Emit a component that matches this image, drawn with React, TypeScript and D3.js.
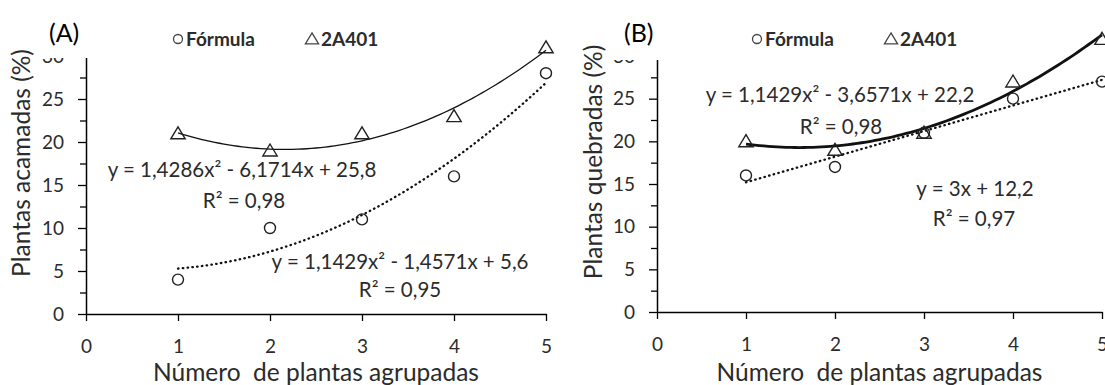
import { useEffect, useRef } from 'react';
import * as d3 from 'd3';

// values
const xValues = [1, 2, 3, 4, 5];
const acamadasFormula = [4, 10, 11, 16, 28];
const acamadas2A401 = [21, 19, 21, 23, 31];
const quebradasFormula = [16, 17, 21, 25, 27];
const quebradas2A401 = [20, 19, 21, 27, 32];

// trendline coefficients (a, b, c for a*x^2 + b*x + c), as printed on the chart
const fitAcamadasFormula = [1.1429, -1.4571, 5.6];
const fitAcamadas2A401 = [1.4286, -6.1714, 25.8];
const fitQuebradasFormula = [0, 3, 12.2];
const fitQuebradas2A401 = [1.1429, -3.6571, 22.2];

const xTicks = [0, 1, 2, 3, 4, 5];
const yTicks = [0, 5, 10, 15, 20, 25, 30];
const yMinorTicks = [2.5, 7.5, 12.5, 17.5, 22.5, 27.5];

const legendLabels = ['Fórmula', '2A401'];
const xTitle = 'Número  de plantas agrupadas';

const FONT = 'Lato, "Open Sans", sans-serif';
const TEXT = '#2b2b2b';

const panels = [
  {
    tag: '(A)',
    yTitle: 'Plantas acamadas (%)',
    formula: acamadasFormula,
    hybrid: acamadas2A401,
    fitFormula: fitAcamadasFormula,
    fitHybrid: fitAcamadas2A401,
    solidWidth: 1.3,
    left: 86, right: 546, bottom: 314, top: 56,
    coverX: 35, coverW: 430, coverH: 58,
    tagX: 49, legendX: 178, titleX: 21, titleY: 163,
    labels: [
      { x: 242, y: 170, t: 'y = 1,4286x² - 6,1714x + 25,8' },
      { x: 244, y: 201, t: 'R² = 0,98' },
      { x: 400, y: 262, t: 'y = 1,1429x² - 1,4571x + 5,6' },
      { x: 400, y: 290, t: 'R² = 0,95' }
    ]
  },
  {
    tag: '(B)',
    yTitle: 'Plantas quebradas (%)',
    formula: quebradasFormula,
    hybrid: quebradas2A401,
    fitFormula: fitQuebradasFormula,
    fitHybrid: fitQuebradas2A401,
    solidWidth: 2.8,
    left: 657, right: 1102, bottom: 312, top: 56,
    coverX: 606, coverW: 400, coverH: 60,
    tagX: 624, legendX: 757, titleX: 593, titleY: 162,
    labels: [
      { x: 840, y: 95, t: 'y = 1,1429x² - 3,6571x + 22,2' },
      { x: 841, y: 127, t: 'R² = 0,98' },
      { x: 975, y: 189, t: 'y = 3x + 12,2' },
      { x: 974, y: 219, t: 'R² = 0,97' }
    ]
  }
];

const triPath = (cx, cy, s) =>
  `M${cx},${cy - s * 0.55}L${cx + s * 0.6},${cy + s * 0.45}L${cx - s * 0.6},${cy + s * 0.45}Z`;

const App = () => {
  const svgRef = useRef();

  useEffect(() => {
    const svg = d3.select(svgRef.current);
    svg.selectAll('*').remove();

    panels.forEach(p => {
      const g = svg.append('g');
      const x = d3.scaleLinear().domain([0, 5]).range([p.left, p.right]);
      const y = d3.scaleLinear().domain([0, 30]).range([p.bottom, p.top]);

      // minor y ticks
      g.append('g')
        .attr('transform', `translate(${p.left},0)`)
        .call(d3.axisLeft(y).tickValues(yMinorTicks).tickSize(6).tickFormat(() => ''))
        .call(a => a.select('.domain').remove())
        .selectAll('line')
        .attr('stroke', '#000')
        .attr('stroke-width', 1.3);

      // y axis
      g.append('g')
        .attr('transform', `translate(${p.left},0)`)
        .call(d3.axisLeft(y).tickValues(yTicks).tickSize(8).tickSizeOuter(0).tickPadding(14))
        .call(a => a.select('.domain').attr('stroke', '#000').attr('stroke-width', 1.5))
        .call(a => a.selectAll('line').attr('stroke', '#000').attr('stroke-width', 1.3))
        .selectAll('text')
        .attr('fill', TEXT)
        .style('font-family', FONT)
        .style('font-size', '19px');

      // x axis
      g.append('g')
        .attr('transform', `translate(0,${p.bottom})`)
        .call(d3.axisBottom(x).tickValues(xTicks).tickSize(7).tickSizeOuter(0).tickPadding(19).tickFormat(d3.format('d')))
        .call(a => a.select('.domain').attr('stroke', '#000').attr('stroke-width', 1.5))
        .call(a => a.selectAll('line').attr('stroke', '#000').attr('stroke-width', 1.3))
        .selectAll('text')
        .attr('fill', TEXT)
        .style('font-family', FONT)
        .style('font-size', '19px');

      // white box that hides the top of the axis, as in the original
      g.append('rect')
        .attr('x', p.coverX)
        .attr('y', 0)
        .attr('width', p.coverW)
        .attr('height', p.coverH)
        .attr('fill', '#fff');

      // trendlines
      const curve = c => d3.range(1, 5.0001, 0.05).map(v => [v, c[0] * v * v + c[1] * v + c[2]]);
      const line = d3.line().x(d => x(d[0])).y(d => y(d[1]));

      g.append('path')
        .attr('d', line(curve(p.fitFormula)))
        .attr('fill', 'none')
        .attr('stroke', '#111')
        .attr('stroke-width', 2.3)
        .attr('stroke-linecap', 'round')
        .attr('stroke-dasharray', '0.5 4.3');

      g.append('path')
        .attr('d', line(curve(p.fitHybrid)))
        .attr('fill', 'none')
        .attr('stroke', '#111')
        .attr('stroke-width', p.solidWidth);

      // markers
      g.selectAll('.circ')
        .data(xValues)
        .enter()
        .append('circle')
        .attr('cx', d => x(d))
        .attr('cy', (d, i) => y(p.formula[i]))
        .attr('r', 5.5)
        .attr('fill', 'none')
        .attr('stroke', '#222')
        .attr('stroke-width', 1.4);

      g.selectAll('.tri')
        .data(xValues)
        .enter()
        .append('path')
        .attr('d', (d, i) => triPath(x(d), y(p.hybrid[i]), 12))
        .attr('fill', 'none')
        .attr('stroke', '#222')
        .attr('stroke-width', 1.4);

      // equations
      p.labels.forEach(l => {
        g.append('text')
          .attr('x', l.x)
          .attr('y', l.y)
          .attr('dy', '0.35em')
          .attr('text-anchor', 'middle')
          .attr('fill', TEXT)
          .style('font-family', FONT)
          .style('font-size', '20.5px')
          .text(l.t);
      });

      // panel tag
      g.append('text')
        .attr('x', p.tagX)
        .attr('y', 33)
        .attr('dy', '0.35em')
        .attr('fill', '#000')
        .style('font-family', FONT)
        .style('font-size', '25px')
        .text(p.tag);

      // legend
      const lg = g.append('g').attr('transform', `translate(${p.legendX},39)`);
      lg.append('circle').attr('cx', 0).attr('cy', 0).attr('r', 4.5)
        .attr('fill', 'none').attr('stroke', '#444').attr('stroke-width', 1.3);
      lg.append('text').attr('x', 8).attr('y', 0).attr('dy', '0.35em')
        .attr('fill', TEXT).style('font-family', FONT).style('font-size', '19px')
        .style('font-weight', 'bold').text(legendLabels[0]);
      lg.append('path').attr('d', triPath(134, 0, 11))
        .attr('fill', 'none').attr('stroke', '#444').attr('stroke-width', 1.3);
      lg.append('text').attr('x', 143).attr('y', 0).attr('dy', '0.35em')
        .attr('fill', TEXT).style('font-family', FONT).style('font-size', '19px')
        .style('font-weight', 'bold').text(legendLabels[1]);

      // axis titles
      g.append('text')
        .attr('x', (p.left + p.right) / 2)
        .attr('y', 372)
        .attr('dy', '0.35em')
        .attr('text-anchor', 'middle')
        .attr('fill', TEXT)
        .style('font-family', FONT)
        .style('font-size', '24.5px')
        .style('white-space', 'pre')
        .text(xTitle);

      g.append('text')
        .attr('transform', `translate(${p.titleX},${p.titleY}) rotate(-90)`)
        .attr('dy', '0.35em')
        .attr('text-anchor', 'middle')
        .attr('fill', TEXT)
        .style('font-family', FONT)
        .style('font-size', '24.5px')
        .text(p.yTitle);
    });
  }, []);

  return (
    <svg
      ref={svgRef}
      width={1105}
      height={385}
      style={{ position: 'absolute', left: 0, top: 0, background: '#fff' }}
    />
  );
};

export default App;
